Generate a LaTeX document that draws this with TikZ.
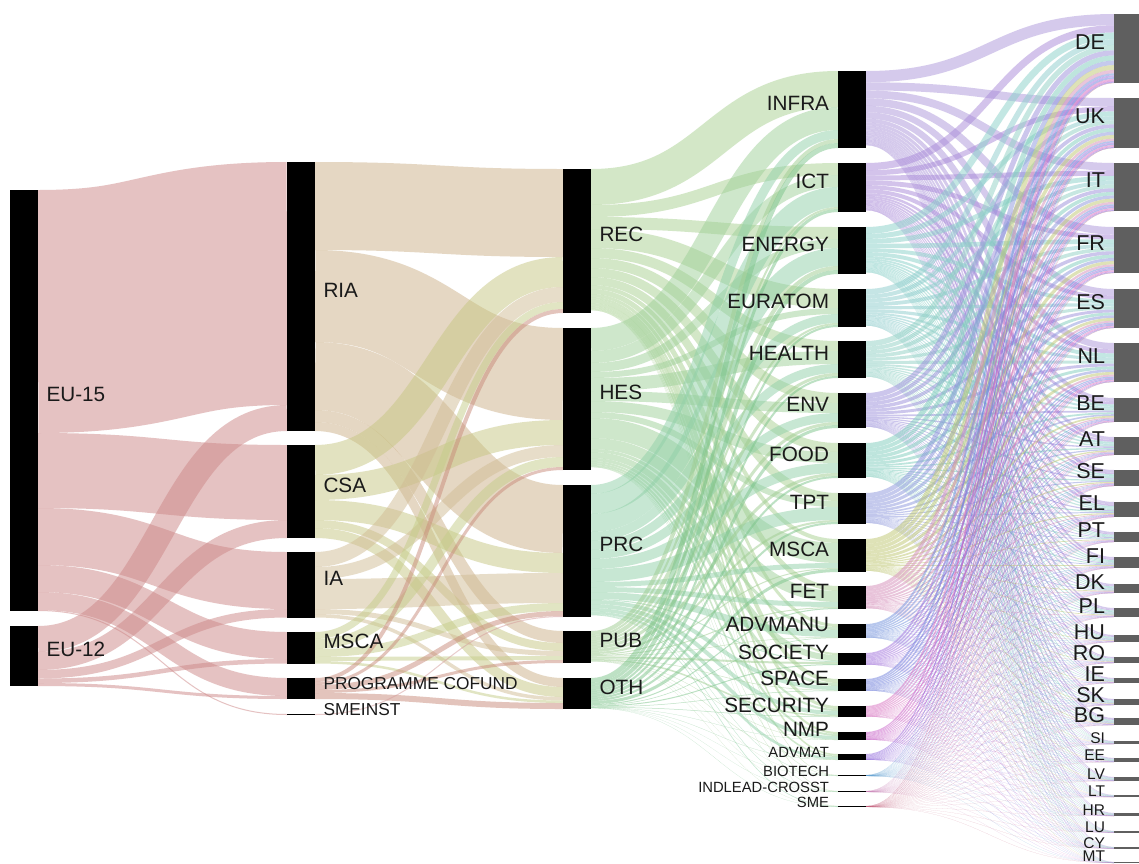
\documentclass[tikz,border=0pt]{standalone}
\usepackage{fontspec}
\setmainfont{Liberation Sans}
\definecolor{cEU}{HTML}{CD8787}
\definecolor{cRIA}{HTML}{CDB189}
\definecolor{cCSA}{HTML}{C7C783}
\definecolor{cIA}{HTML}{D1BC94}
\definecolor{cMSCA}{HTML}{C5CD89}
\definecolor{cPC}{HTML}{C98B7A}
\definecolor{cSMEI}{HTML}{D49B9B}
\definecolor{cREC}{HTML}{A9D191}
\definecolor{cHES}{HTML}{9FD199}
\definecolor{cPRC}{HTML}{91D1A9}
\definecolor{cPUB}{HTML}{9FCD91}
\definecolor{cOTH}{HTML}{7CC48A}
\definecolor{cINFRA}{HTML}{AD97DB}
\definecolor{cICT}{HTML}{A989D9}
\definecolor{cENERGY}{HTML}{89D1C9}
\definecolor{cEURATOM}{HTML}{8DCDCD}
\definecolor{cHEALTH}{HTML}{91D1C5}
\definecolor{cENV}{HTML}{9A8FDB}
\definecolor{cFOOD}{HTML}{7FCDBD}
\definecolor{cTPT}{HTML}{8D97DD}
\definecolor{cTMSCA}{HTML}{BFC771}
\definecolor{cFET}{HTML}{D58DB9}
\definecolor{cADVMANU}{HTML}{7191DD}
\definecolor{cSOCIETY}{HTML}{A171DD}
\definecolor{cSPACE}{HTML}{7181DD}
\definecolor{cSECURITY}{HTML}{D971C1}
\definecolor{cNMP}{HTML}{C961C9}
\definecolor{cADVMAT}{HTML}{9169DD}
\definecolor{cBIOTECH}{HTML}{5199D1}
\definecolor{cINDLEAD}{HTML}{C97DB5}
\definecolor{cTSME}{HTML}{C15171}
\definecolor{txt}{HTML}{1A1A1A}
\definecolor{cbar}{HTML}{5F5F5F}
\makeatletter
\newcommand\sknode[3]{%
  \expandafter\xdef\csname skx@#1\endcsname{#2}%
  \expandafter\xdef\csname sktop@#1\endcsname{#3}%
  \expandafter\xdef\csname sks@#1\endcsname{#3}%
  \expandafter\xdef\csname skt@#1\endcsname{#3}%
}
\newcommand\skflow[4]{%
  \pgfmathsetmacro\sk@ya{\csname sks@#1\endcsname}%
  \pgfmathsetmacro\sk@yc{\csname skt@#2\endcsname}%
  \pgfmathsetmacro\sk@yb{\sk@ya+#3}%
  \pgfmathsetmacro\sk@yd{\sk@yc+#3}%
  \expandafter\xdef\csname sks@#1\endcsname{\sk@yb}%
  \expandafter\xdef\csname skt@#2\endcsname{\sk@yd}%
  \pgfmathsetmacro\sk@xa{\csname skx@#1\endcsname+28}%
  \pgfmathsetmacro\sk@xb{\csname skx@#2\endcsname}%
  \pgfmathsetmacro\sk@xm{(\sk@xa+\sk@xb)/2}%
  \pgfmathsetmacro\sk@ma{(\sk@ya+\sk@yb)/2}%
  \pgfmathsetmacro\sk@mb{(\sk@yc+\sk@yd)/2}%
  \draw[flowline, draw=#4, line width=#3pt] (\sk@xa,\sk@ma) .. controls (\sk@xm,\sk@ma) and (\sk@xm,\sk@mb) .. (\sk@xb,\sk@mb);%
}
\newcommand\skbar[2]{%
  \pgfmathsetmacro\sk@top{\csname sktop@#1\endcsname}%
  \pgfmathsetmacro\sk@bot{max(\csname sks@#1\endcsname,\csname skt@#1\endcsname)}%
  \pgfmathsetmacro\sk@h{max(\sk@bot-\sk@top,1)}%
  \node[#2, minimum height=\sk@h pt, anchor=north west] (#1) at (\csname skx@#1\endcsname,\sk@top) {};%
}
\makeatother
\newcommand\sklabR[3][]{\node[lab,anchor=base west,xshift=8.5pt,yshift=-0.5pt,#1] (#2-l) at (#2.east) {#3};}
\newcommand\sklabL[3][]{\node[lab,anchor=base east,xshift=-9pt,yshift=-0.5pt,#1] (#2-l) at (#2.west) {#3};}
\begin{document}
\begin{tikzpicture}[x=1pt,y=-1pt,
  flowline/.style={draw opacity=0.5, line cap=butt},
  sbar/.style={fill=black, inner sep=0pt, outer sep=0pt, minimum width=28pt},
  cbarst/.style={fill=cbar, inner sep=0pt, outer sep=0pt, minimum width=28pt},
  lab/.style={font=\fontsize{20.7}{24}\selectfont, text=txt, inner sep=0pt, outer sep=0pt},
  labm/.style={font=\fontsize{17.3}{20}\selectfont},
  labs/.style={font=\fontsize{14.8}{17}\selectfont},
  labc/.style={font=\fontsize{21.5}{25}\selectfont},
  labcs/.style={font=\fontsize{15.5}{18}\selectfont}]
\useasboundingbox (0,0) rectangle (1139,863);
\fill[white] (0,0) rectangle (1139,863);
% ---- node registration
\sknode{EUa}{10}{190}\sknode{EUb}{10}{626}
\sknode{RIA}{287}{162}\sknode{CSA}{287}{445}\sknode{IA}{287}{552}
\sknode{MSCA}{287}{632}\sknode{PC}{287}{678}\sknode{SMEINST}{287}{714}
\sknode{REC}{563}{169}\sknode{HES}{563}{328}\sknode{PRC}{563}{485}
\sknode{PUB}{563}{631}\sknode{OTH}{563}{678}
\foreach \n/\y in {INFRA/71,ICT/163,ENERGY/227,EURATOM/289,HEALTH/341,ENV/393,FOOD/443,TPT/493,TMSCA/539,FET/586,ADVMANU/624,SOCIETY/653,SPACE/679,SECURITY/706,NMP/732,ADVMAT/754,BIOTECH/775,INDLEAD/791,TSME/806}{\sknode{\n}{838}{\y}}
\foreach \n/\y in {DE/14,UK/98,IT/163,FR/227,ES/289,NL/343,BE/398,AT/437,SE/470,EL/502,PT/532,FI/557,DK/584,PL/608,HU/635,RO/657,IE/678,SK/699,BG/718,SI/741,EE/758,LV/777,LT/795,HR/813,LU/831,CY/847,MT/862}{\sknode{\n}{1114}{\y}}
% ---- stage 1
\foreach \t/\v in {RIA/243,CSA/75,IA/57,MSCA/27,PC/18,SMEINST/1}{\skflow{EUa}{\t}{\v}{cEU}}
\foreach \t/\v in {RIA/26,CSA/18,IA/8.5,MSCA/4.5,PC/3}{\skflow{EUb}{\t}{\v}{cEU}}
% ---- stage 2
\foreach \t/\v in {REC/88,HES/92,PRC/68,PUB/12,OTH/9}{\skflow{RIA}{\t}{\v}{cRIA}}
\foreach \t/\v in {REC/30,HES/25,PRC/20,PUB/8,OTH/10}{\skflow{CSA}{\t}{\v}{cCSA}}
\foreach \t/\v in {REC/15,HES/12,PRC/30,PUB/5,OTH/3.5}{\skflow{IA}{\t}{\v}{cIA}}
\foreach \t/\v in {REC/7,HES/10,PRC/8,PUB/4,OTH/2.5}{\skflow{MSCA}{\t}{\v}{cMSCA}}
\foreach \t/\v in {REC/4,HES/3,PRC/5,PUB/3,OTH/6}{\skflow{PC}{\t}{\v}{cPC}}
\skflow{SMEINST}{PRC}{1}{cSMEI}
% ---- stage 3
\foreach \t/\v in {INFRA/36,ICT/12,ENERGY/12,EURATOM/19,HEALTH/10,ENV/10,FOOD/9,TPT/8,TMSCA/4,FET/5,ADVMANU/3,SOCIETY/2,SPACE/4,SECURITY/3,NMP/2,ADVMAT/1.5,BIOTECH/.3,INDLEAD/.3,TSME/.1}{\skflow{REC}{\t}{\v}{cREC}}
\foreach \t/\v in {INFRA/23,ICT/12,ENERGY/9,EURATOM/6,HEALTH/13,ENV/10,FOOD/11,TPT/6,TMSCA/20,FET/11,ADVMANU/3,SOCIETY/6,SPACE/3,SECURITY/2,NMP/2,ADVMAT/1.5,BIOTECH/.3,INDLEAD/.2,TSME/.1}{\skflow{HES}{\t}{\v}{cHES}}
\foreach \t/\v in {INFRA/9,ICT/20,ENERGY/18,EURATOM/9,HEALTH/9,ENV/9,FOOD/10,TPT/13,TMSCA/5,FET/5,ADVMANU/7,SOCIETY/1,SPACE/4,SECURITY/4,NMP/3.5,ADVMAT/2.5,BIOTECH/.3,INDLEAD/.4,TSME/.6}{\skflow{PRC}{\t}{\v}{cPRC}}
\foreach \t/\v in {INFRA/4,ICT/2,ENERGY/4,EURATOM/2,HEALTH/3,ENV/3,FOOD/3,TPT/2,TMSCA/1,FET/1,ADVMANU/.5,SOCIETY/2,SPACE/.5,SECURITY/1.5,NMP/.3,ADVMAT/.3,BIOTECH/.05,INDLEAD/.05,TSME/.1}{\skflow{PUB}{\t}{\v}{cPUB}}
\foreach \t/\v in {INFRA/5,ICT/3,ENERGY/4,EURATOM/2,HEALTH/2,ENV/3,FOOD/2,TPT/2,TMSCA/3,FET/1,ADVMANU/.5,SOCIETY/1,SPACE/.5,SECURITY/.5,NMP/.2,ADVMAT/.2,BIOTECH/.05,INDLEAD/.05,TSME/.1}{\skflow{OTH}{\t}{\v}{cOTH}}
% ---- stage 4
\foreach \tn/\tv/\tc in {INFRA/77/cINFRA,ICT/49/cICT,ENERGY/47/cENERGY,EURATOM/38/cEURATOM,HEALTH/37/cHEALTH,ENV/35/cENV,FOOD/35/cFOOD,TPT/31/cTPT,TMSCA/33/cTMSCA,FET/23/cFET,ADVMANU/14/cADVMANU,SOCIETY/12/cSOCIETY,SPACE/12/cSPACE,SECURITY/11/cSECURITY,NMP/8/cNMP,ADVMAT/6/cADVMAT,BIOTECH/1/cBIOTECH,INDLEAD/1/cINDLEAD,TSME/1/cTSME}{
  \foreach \cn/\cv in {DE/69,UK/50,IT/48,FR/46,ES/39,NL/39,BE/24,AT/18,SE/16,EL/15,PT/10,FI/11,DK/9,PL/9,HU/7,RO/6,IE/5,SK/6,BG/7,SI/3,EE/4,LV/4,LT/2,HR/3,LU/1.5,CY/1.5,MT/1}{
    \pgfmathsetmacro\fv{\tv*\cv/471}
    \skflow{\tn}{\cn}{\fv}{\tc}
  }
}
% ---- bars
\foreach \n in {EUa,EUb,RIA,CSA,IA,MSCA,PC,SMEINST,REC,HES,PRC,PUB,OTH,INFRA,ICT,ENERGY,EURATOM,HEALTH,ENV,FOOD,TPT,TMSCA,FET,ADVMANU,SOCIETY,SPACE,SECURITY,NMP,ADVMAT,BIOTECH,INDLEAD,TSME}{\skbar{\n}{sbar}}
\foreach \n in {DE,UK,IT,FR,ES,NL,BE,AT,SE,EL,PT,FI,DK,PL,HU,RO,IE,SK,BG,SI,EE,LV,LT,HR,LU,CY,MT}{\skbar{\n}{cbarst}}
% ---- labels
\sklabR{EUa}{EU-15}\sklabR{EUb}{EU-12}
\sklabR{RIA}{RIA}\sklabR{CSA}{CSA}\sklabR{IA}{IA}\sklabR{MSCA}{MSCA}
\sklabR[labm]{PC}{PROGRAMME COFUND}\sklabR[labm]{SMEINST}{SMEINST}
\sklabR{REC}{REC}\sklabR{HES}{HES}\sklabR{PRC}{PRC}\sklabR{PUB}{PUB}\sklabR{OTH}{OTH}
\sklabL{INFRA}{INFRA}\sklabL{ICT}{ICT}\sklabL{ENERGY}{ENERGY}\sklabL{EURATOM}{EURATOM}
\sklabL{HEALTH}{HEALTH}\sklabL{ENV}{ENV}\sklabL{FOOD}{FOOD}\sklabL{TPT}{TPT}
\sklabL{TMSCA}{MSCA}\sklabL{FET}{FET}\sklabL{ADVMANU}{ADVMANU}\sklabL{SOCIETY}{SOCIETY}
\sklabL{SPACE}{SPACE}\sklabL{SECURITY}{SECURITY}\sklabL{NMP}{NMP}
\sklabL[labs]{ADVMAT}{ADVMAT}\sklabL[labs]{BIOTECH}{BIOTECH}\sklabL[labs]{INDLEAD}{INDLEAD-CROSST}\sklabL[labs]{TSME}{SME}
\foreach \n in {DE,UK,IT,FR,ES,NL,BE,AT,SE,EL,PT,FI,DK,PL,HU,RO,IE,SK,BG}{\sklabL[labc]{\n}{\n}}
\foreach \n in {SI,EE,LV,LT,HR,LU,CY}{\sklabL[labcs]{\n}{\n}}
\sklabL[labcs,yshift=1.5pt]{MT}{MT}
\end{tikzpicture}
\end{document}
